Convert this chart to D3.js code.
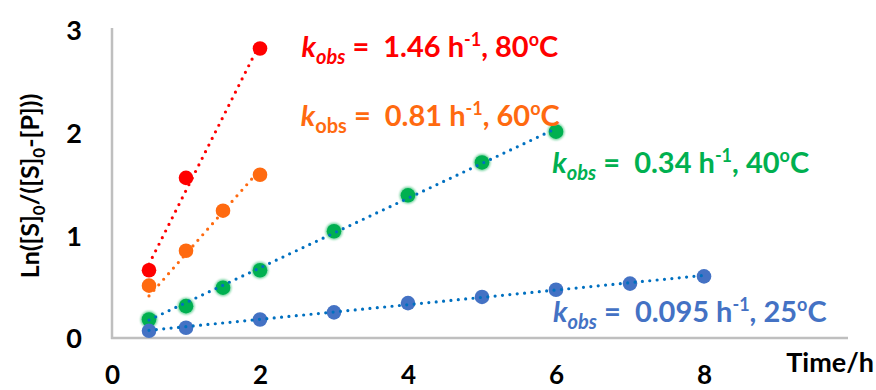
<!DOCTYPE html>
<html><head><meta charset="utf-8">
<script src="https://cdn.jsdelivr.net/npm/d3@7/dist/d3.min.js"></script>
<style>
html,body{margin:0;padding:0;background:#fff;}
svg{display:block;}
text{font-family:Lato,"Open Sans",sans-serif;font-weight:bold;white-space:pre;}
</style></head>
<body>
<svg id="chart" width="876" height="390"></svg>
<script>
// ---- data ----
const xTicks = [0, 2, 4, 6, 8];
const yTicks = [0, 1, 2, 3];
const temps = ["80", "60", "40", "25"];
const kValues = ["1.46", "0.81", "0.34", "0.095"];

const x80 = [0.5, 1, 2];
const y80 = [0.66, 1.56, 2.82];
const x60 = [0.5, 1, 1.5, 2];
const y60 = [0.51, 0.85, 1.24, 1.59];
const x40 = [0.5, 1, 1.5, 2, 3, 4, 5, 6];
const y40 = [0.18, 0.31, 0.49, 0.66, 1.04, 1.39, 1.71, 2.01];
const x25 = [0.5, 1, 2, 3, 4, 5, 6, 7, 8];
const y25 = [0.07, 0.10, 0.18, 0.25, 0.34, 0.40, 0.47, 0.53, 0.60];

// trendline end values (x start, y start, x end, y end)
const trend80 = [0.5, 0.72, 2, 2.87];
const trend60 = [0.5, 0.41, 2, 1.64];
const trend40 = [0.5, 0.175, 6, 2.04];
const trend25 = [0.5, 0.075, 8, 0.61];

// ---- layout / style ----
const series = [
  {xs: x80, ys: y80, trend: trend80, k: kValues[0], t: temps[0], fill: "#FF0000", line: "#FF0000", text: "#FF0000", subItalic: true, lab: [2.56, 2.74]},
  {xs: x60, ys: y60, trend: trend60, k: kValues[1], t: temps[1], fill: "#FF6A10", line: "#FF6A10", text: "#FF6A10", subItalic: false, lab: [2.55, 2.065]},
  {xs: x40, ys: y40, trend: trend40, k: kValues[2], t: temps[2], fill: "#00B050", line: "#0070C0", text: "#00B050", subItalic: true, lab: [5.95, 1.61], glow: true},
  {xs: x25, ys: y25, trend: trend25, k: kValues[3], t: temps[3], fill: "#4472C4", line: "#0070C0", text: "#4472C4", subItalic: true, lab: [5.96, 0.16]}
];

const svg = d3.select("#chart");
const x = d3.scaleLinear().domain([0, 10]).range([112, 852]);
const y = d3.scaleLinear().domain([0, 3]).range([338, 30]);

const defs = svg.append("defs");
defs.append("filter").attr("id", "glow").attr("x", "-50%").attr("y", "-50%").attr("width", "200%").attr("height", "200%")
  .append("feGaussianBlur").attr("stdDeviation", 1.3);

// axes lines
svg.append("line").attr("x1", x(0)).attr("x2", x(0)).attr("y1", y(0) + 1).attr("y2", y(3) - 2)
  .attr("stroke", "#BFBFBF").attr("stroke-width", 2.5);
svg.append("line").attr("x1", x(0) - 1).attr("x2", x(10) - 4).attr("y1", y(0)).attr("y2", y(0))
  .attr("stroke", "#BFBFBF").attr("stroke-width", 2.5);

// tick labels via axes (no tick lines)
const yAxis = svg.append("g").attr("transform", `translate(${x(0)},0)`)
  .call(d3.axisLeft(y).tickValues(yTicks).tickFormat(d3.format("d")).tickSize(0).tickPadding(30));
yAxis.select(".domain").remove();
yAxis.selectAll("text").attr("font-size", 27).attr("font-family", "Lato").attr("font-weight", "bold").attr("fill", "#000").attr("dy", "0.36em");

const xAxis = svg.append("g").attr("transform", `translate(0,${y(0)})`)
  .call(d3.axisBottom(x).tickValues(xTicks).tickFormat(d3.format("d")).tickSize(0).tickPadding(37));
xAxis.select(".domain").remove();
xAxis.selectAll("text").attr("font-size", 26).attr("font-family", "Lato").attr("font-weight", "bold").attr("fill", "#000").attr("dy", "0.36em");

// axis titles
const yt = svg.append("text").attr("transform", `translate(39,186) rotate(-90)`)
  .attr("text-anchor", "middle").attr("font-size", 25).attr("fill", "#000");
yt.append("tspan").text("Ln([S]");
yt.append("tspan").attr("font-size", 17).attr("dy", 6).text("0");
yt.append("tspan").attr("dy", -6).text("/([S]");
yt.append("tspan").attr("font-size", 17).attr("dy", 6).text("0");
yt.append("tspan").attr("dy", -6).text("-[P]))");

svg.append("text").attr("x", 874).attr("y", 372).attr("text-anchor", "end")
  .attr("font-size", 27).attr("fill", "#000").text("Time/h");

// points
series.forEach(s => {
  const g = svg.append("g");
  const pts = s.xs.map((v, i) => [v, s.ys[i]]);
  if (s.glow) {
    g.selectAll("circle.glow").data(pts).join("circle").attr("class", "glow")
      .attr("cx", d => x(d[0])).attr("cy", d => y(d[1])).attr("r", 8.5)
      .attr("fill", s.fill).attr("opacity", 0.55).attr("filter", "url(#glow)");
  }
  g.selectAll("circle.pt").data(pts).join("circle").attr("class", "pt")
    .attr("cx", d => x(d[0])).attr("cy", d => y(d[1])).attr("r", 7.3)
    .attr("fill", s.fill);
});

// trendlines (dotted)
series.forEach(s => {
  svg.append("line")
    .attr("x1", x(s.trend[0])).attr("y1", y(s.trend[1]))
    .attr("x2", x(s.trend[2])).attr("y2", y(s.trend[3]))
    .attr("stroke", s.line).attr("stroke-width", 3.2)
    .attr("stroke-linecap", "round").attr("stroke-dasharray", "0 7.4");
});

// labels
series.forEach(s => {
  const t = svg.append("text").attr("x", x(s.lab[0])).attr("y", y(s.lab[1]))
    .attr("font-size", 29).attr("fill", s.text);
  t.append("tspan").attr("font-style", "italic").text("k");
  t.append("tspan").attr("font-style", s.subItalic ? "italic" : "normal").attr("font-size", 20).attr("dy", 7).text("obs");
  t.append("tspan").attr("dy", -7).text(" =  " + s.k + " h");
  t.append("tspan").attr("font-size", 18).attr("dy", -11).text("-1");
  t.append("tspan").attr("dy", 11).text(", " + s.t);
  t.append("tspan").attr("font-size", 18).attr("dy", -11).text("o");
  t.append("tspan").attr("dy", 11).text("C");
});
</script>
</body></html>
